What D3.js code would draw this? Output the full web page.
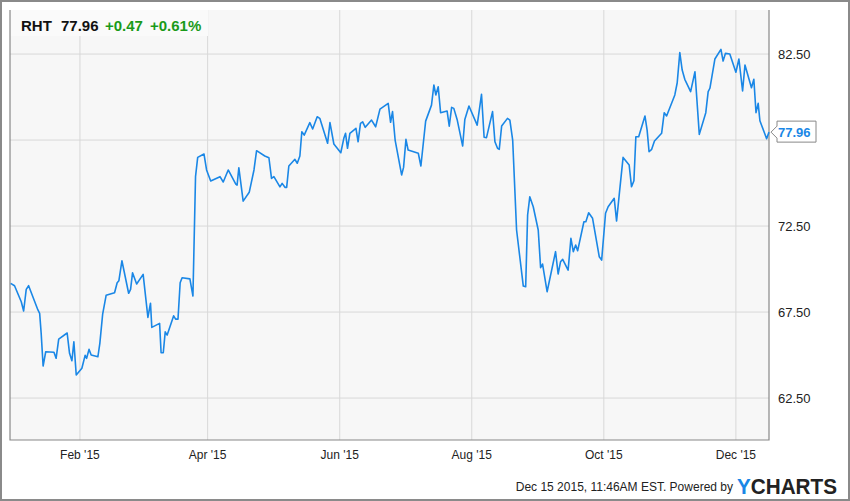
<!DOCTYPE html>
<html><head><meta charset="utf-8">
<script src="https://cdn.jsdelivr.net/npm/d3@7"></script>
<style>body{margin:0;background:#fff}svg{display:block;font-family:Arial,"Liberation Sans",sans-serif}</style>
</head><body><svg id="c" width="850" height="501"></svg>
<script>
// day offsets from Jan 1 2015
const days=[-1.0,0.8,3.9,5.0,6.2,7.3,11.6,12.4,13.1,14.0,15.2,19.0,20.0,21.2,25.1,26.2,27.3,28.2,29.3,31.9,33.4,34.1,35.2,36.2,39.3,40.2,41.5,43.1,47.0,48.2,49.0,50.4,53.5,54.4,55.3,57.2,60.2,62.4,63.6,64.2,67.8,68.5,69.5,70.4,71.3,74.3,75.2,76.3,77.3,78.2,81.8,83.2,84.4,85.4,88.3,89.5,91.4,95.7,97.2,99.5,103.0,103.6,104.4,106.4,109.2,111.4,112.6,116.4,118.3,119.5,120.6,123.4,124.4,125.7,126.5,127.5,130.3,131.4,132.6,133.5,134.6,137.2,138.5,140.6,141.8,145.4,146.5,148.3,151.5,152.9,153.7,154.6,155.7,158.5,159.5,160.6,161.6,162.8,165.7,167.6,169.6,173.4,174.5,175.4,176.6,179.6,180.5,181.6,182.6,187.3,188.5,190.7,193.4,194.5,195.4,196.5,197.6,200.6,201.6,202.7,203.7,205.3,207.8,208.8,210.7,214.5,216.5,217.7,218.8,221.6,222.7,223.9,224.7,225.8,228.5,229.6,230.9,232.7,235.8,236.9,237.8,238.8,240.4,242.7,243.8,244.7,246.8,250.7,251.9,253.0,254.0,256.5,257.8,258.9,260.0,260.9,263.8,264.7,266.0,267.8,270.9,272.0,273.8,275.0,277.8,278.9,280.1,281.9,284.7,285.8,286.9,287.8,289.1,292.0,293.0,293.9,295.1,296.4,299.7,300.9,302.0,305.8,306.9,308.1,309.2,310.4,313.1,315.1,317.1,320.1,321.2,322.0,324.3,327.1,328.1,329.2,331.2,334.0,335.4,337.1,338.2,341.2,342.3,343.3,344.3,345.1,348.2,349.3];
const prices=[69.17,69.03,68.10,67.56,68.82,69.03,67.62,67.42,66.26,64.36,65.19,65.16,64.81,65.93,66.28,65.10,64.67,65.77,63.84,64.23,64.98,64.81,65.33,65.00,64.90,65.68,67.38,68.47,68.62,69.20,69.32,70.48,68.59,68.82,69.78,69.13,69.69,67.19,68.01,66.61,66.84,65.13,65.13,66.35,66.16,67.28,67.09,67.09,69.20,69.49,69.43,68.43,75.37,76.49,76.69,75.76,75.12,75.37,75.06,75.76,74.94,74.88,75.89,73.95,74.46,75.76,76.88,76.57,76.47,75.27,75.37,74.78,74.98,74.75,74.75,75.99,76.38,76.15,76.57,77.98,77.79,78.51,78.14,78.85,78.76,77.31,78.51,77.27,76.76,77.60,77.89,77.02,77.89,78.18,77.40,78.47,78.56,78.24,78.66,78.27,79.30,79.63,78.53,79.15,77.50,75.47,75.91,77.54,76.92,76.73,75.99,78.60,79.53,80.70,80.12,80.60,79.09,79.19,78.31,79.40,79.34,78.66,77.15,78.70,79.48,78.37,80.16,77.66,77.64,79.15,77.40,77.02,76.96,78.31,78.76,78.66,77.50,72.27,69.01,68.97,73.14,74.20,73.62,72.27,70.08,70.29,68.68,71.01,69.71,70.42,70.56,69.94,71.78,71.01,71.40,71.06,72.75,72.75,73.27,72.95,70.71,70.52,73.24,73.62,74.11,72.79,74.30,76.49,76.05,74.78,75.13,77.69,77.69,78.90,78.08,76.82,76.96,77.44,77.89,79.09,78.90,80.12,80.83,82.58,81.57,81.03,80.31,81.47,77.83,79.09,80.31,80.51,82.21,82.77,82.09,82.54,82.50,81.44,82.21,80.35,81.86,80.54,81.03,79.09,79.63,78.62,77.58,77.96];
const yTicks=[62.5,67.5,72.5,77.5,82.5];
const xTickDates=["2015-02-01","2015-04-01","2015-06-01","2015-08-01","2015-10-01","2015-12-01"];
const xTickLabels=["Feb '15","Apr '15","Jun '15","Aug '15","Oct '15","Dec '15"];
const header={sym:"RHT",last:"77.96",chg:"+0.47",pct:"+0.61%"};

const svg=d3.select("#c");
const L=10,R=769,T=10,B=440;
const base=new Date(2015,0,1).getTime();
const toDate=d=>new Date(base+d*86400000);
const x=d3.scaleTime().domain([toDate(-1.3),toDate(349.3)]).range([L,R]);
const y=d3.scaleLinear().domain([60.06,85.06]).range([B,T]);
const data=days.map((d,i)=>({d:toDate(d),v:prices[i]}));

svg.append("rect").attr("x",1).attr("y",1).attr("width",848).attr("height",499).attr("fill","#fff").attr("stroke","#8a8a8a").attr("stroke-width",2);
svg.append("rect").attr("x",L).attr("y",T).attr("width",R-L).attr("height",B-T).attr("fill","#f7f7f7");
const pd=d3.timeParse("%Y-%m-%d");
svg.append("g").selectAll("line").data(yTicks).join("line").attr("x1",L).attr("x2",R).attr("y1",d=>y(d)).attr("y2",d=>y(d)).attr("stroke","#d8d8d8");
svg.append("g").selectAll("line").data(xTickDates).join("line").attr("x1",d=>x(pd(d))).attr("x2",d=>x(pd(d))).attr("y1",T).attr("y2",B).attr("stroke","#d8d8d8");
svg.append("rect").attr("x",L).attr("y",T).attr("width",198).attr("height",26).attr("fill","#fafafa");
svg.append("path").attr("d",`M${L},${T}V${B}H${R}V${T}`).attr("fill","none").attr("stroke","#888").attr("stroke-width",1.2);
svg.append("path").datum(data).attr("fill","none").attr("stroke","#1a87e6").attr("stroke-width",1.6).attr("stroke-linejoin","round")
  .attr("d",d3.line().x(d=>x(d.d)).y(d=>y(d.v)));
const last=prices[prices.length-1];
// y labels (the one under the price tag is hidden by the tag)
svg.append("g").selectAll("text").data(yTicks.filter(d=>Math.abs(d-last)>1)).join("text").attr("x",778).attr("y",d=>y(d)+5).attr("font-size",13).attr("fill","#222").text(d=>d.toFixed(2));
svg.append("g").selectAll("text").data(xTickDates).join("text").attr("x",d=>x(pd(d))).attr("y",459).attr("text-anchor","middle").attr("font-size",12).attr("fill","#222").text((d,i)=>xTickLabels[i]);
const ly=y(last);
svg.append("path").attr("d",`M${R+2},${ly} L${R+8},${ly-6} V${ly-11} H816 V${ly+10} H${R+8} V${ly+6} Z`).attr("fill","#fff").attr("stroke","#888");
svg.append("text").attr("x",778).attr("y",ly+5).attr("font-size",13).attr("font-weight","bold").attr("fill","#1a87e6").text(header.last);
const h=svg.append("text").attr("y",31).attr("font-size",15).attr("font-weight","bold");
h.append("tspan").attr("x",21).attr("fill","#111").text(header.sym);
h.append("tspan").attr("x",61).attr("fill","#111").text(header.last);
h.append("tspan").attr("x",105).attr("fill","#1a9a1a").text(header.chg);
h.append("tspan").attr("x",150).attr("fill","#1a9a1a").text(header.pct);
svg.append("text").attr("x",733).attr("y",491).attr("text-anchor","end").attr("font-size",12).attr("fill","#222").text("Dec 15 2015, 11:46AM EST.  Powered by");
const yc=svg.append("text").attr("x",737).attr("y",494).attr("font-size",22).attr("font-weight","bold").attr("textLength",100).attr("lengthAdjust","spacingAndGlyphs");
yc.append("tspan").attr("fill","#1a87e6").text("Y");
yc.append("tspan").attr("fill","#222").text("CHARTS");
</script></body></html>
